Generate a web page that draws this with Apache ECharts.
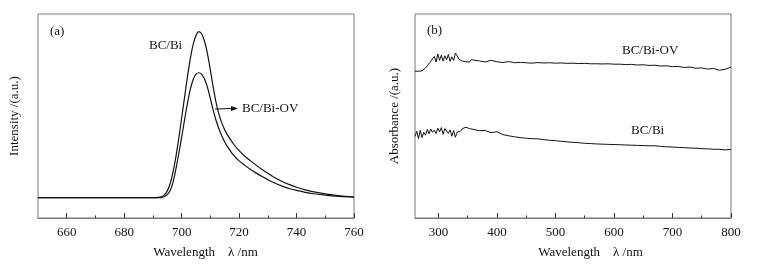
<!DOCTYPE html>
<html>
<head>
<meta charset="utf-8">
<script src="https://cdn.jsdelivr.net/npm/echarts@6/dist/echarts.min.js"></script>
<style>
html,body{margin:0;padding:0;background:#fff;}
#c{width:775px;height:264px;}
</style>
</head>
<body>
<div id="c"></div>
<script>
// ---- Panel (a): photoluminescence ----
const wlA = [650,660,670,680,686,690,692,693,694,695,696,697,698,699,700,701,702,703,704,705,706,707,708,709,710,711,712,713,714,715,716,718,720,722,724,726,728,730,732,735,738,740,743,746,750,755,760];
const intBi = [10,10,10,10,10,10,10.1,10.4,11.3,13.3,16.8,22.5,30,39,49,59,69,78,85,89.5,91.4,90.2,86.5,80.5,72.5,64,56.5,50.8,46.5,43.2,40.6,36.4,33,30.3,28,25.8,23.8,21.9,20.1,17.9,16.1,15.1,13.8,12.8,11.8,10.9,10.3];
const intOV = [10,10,10,10,10,10,10,10.1,10.5,11.5,13.5,17.5,24,31.5,39.5,48,56,63,67.8,70.5,71.2,70.4,68,64,58.5,52.8,47.8,43.6,40.2,37.3,34.9,30.9,28,25.8,23.8,22,20.3,18.8,17.4,15.6,14.2,13.5,12.6,11.9,11.2,10.6,10.2];
const ticksA = [660,680,700,720,740,760];
const minorA = [670,690,710,730,750];

// ---- Panel (b): absorbance ----
const wlB = [260,263,266,269,272,275,278,281,284,287,290,293,296,299,302,305,308,311,314,317,320,323,326,329,332,335,338,341,344,347,350,353,356,359,
  370,380,390,400,410,420,430,440,450,460,470,480,490,500,510,520,530,540,550,560,570,580,590,600,610,620,630,640,650,660,670,680,690,700,710,720,730,740,750,760,770,780,790,800];
const absOV = [72.0,72.3,71.9,72.4,72.2,72.9,73.6,74.6,75.4,76.8,75.9,79.2,76.5,80.4,77.3,79.8,76.9,79.5,77.6,80.2,76.8,79.0,77.2,80.8,79.5,77.8,78.6,76.9,77.3,76.6,77.1,76.4,77.6,76.8,
  77.0,76.5,77.3,76.6,76.2,76.7,76.1,76.3,76.1,75.9,76.2,76.0,76.1,75.9,76.0,75.8,75.9,75.7,75.8,75.6,75.6,75.5,75.6,75.4,75.4,75.2,75.3,75.0,75.1,74.8,74.9,74.5,74.6,74.2,74.3,73.8,74.0,73.4,73.6,73.0,73.3,72.4,72.9,74.0];
const absBi = [40.0,42.5,38.9,43.0,39.4,42.0,40.6,43.4,41.3,43.6,42.0,43.1,41.4,44.0,42.2,44.3,41.0,43.8,44.5,41.5,43.2,40.1,42.9,39.6,42.0,41.2,42.6,43.8,44.4,44.5,44.2,43.8,43.4,43.5,
  42.8,42.9,41.8,42.3,40.9,40.3,39.8,39.4,39.1,38.9,38.8,38.4,38.1,37.9,37.6,37.3,37.1,36.9,36.6,36.5,36.3,36.2,36.1,36.0,35.9,35.8,35.7,35.6,35.5,35.4,35.4,35.1,34.9,34.8,34.6,34.5,34.3,34.2,34.0,33.9,33.7,33.7,33.4,33.6];
const ticksB = [300,400,500,600,700,800];
const minorB = [350,450,550,650,750];

const FONT = 'Liberation Serif';
const FRAME = '#7a7a7a';
const pairs = (xs, ys) => xs.map((x, i) => [x, ys[i]]);

function xAxisMain(gi, min, max, ticks, name, shift) {
  return {
    type: 'value', gridIndex: gi, min: min, max: max,
    name: name, nameLocation: 'middle', nameGap: 28,
    nameTextStyle: {fontFamily: FONT, fontSize: 13, color: '#111', padding: [0, 0, 0, shift]},
    axisLine: {show: true, lineStyle: {color: FRAME, width: 1}},
    axisTick: {show: true, inside: true, length: 5, customValues: ticks, lineStyle: {color: '#333', width: 1}},
    axisLabel: {show: true, customValues: ticks, margin: 8, fontFamily: FONT, fontSize: 13, color: '#111'},
    splitLine: {show: false}
  };
}
function xAxisMinor(gi, min, max, ticks) {
  return {
    type: 'value', gridIndex: gi, min: min, max: max, position: 'bottom',
    axisLine: {show: false},
    axisTick: {show: true, inside: true, length: 2.5, customValues: ticks, lineStyle: {color: '#333', width: 1}},
    axisLabel: {show: false},
    splitLine: {show: false}
  };
}
function yAxis(gi, name, gap) {
  return {
    type: 'value', gridIndex: gi, min: 0, max: 100,
    name: name, nameLocation: 'middle', nameGap: gap, nameRotate: 90,
    nameTextStyle: {fontFamily: FONT, fontSize: 13, color: '#111'},
    axisLine: {show: false}, axisTick: {show: false}, axisLabel: {show: false}, splitLine: {show: false}
  };
}

const chart = echarts.init(document.getElementById('c'), null, {renderer: 'canvas'});
chart.setOption({
  animation: false,
  backgroundColor: '#fff',
  grid: [
    {left: 38, top: 14, width: 316, height: 206, show: true, borderColor: FRAME, borderWidth: 1},
    {left: 415, top: 14, width: 316, height: 206, show: true, borderColor: FRAME, borderWidth: 1}
  ],
  xAxis: [
    xAxisMain(0, 650, 760, ticksA, 'Wavelength    \u03bb /nm', 19),
    xAxisMinor(0, 650, 760, minorA),
    xAxisMain(1, 260, 800, ticksB, 'Wavelength    \u03bb /nm', 35),
    xAxisMinor(1, 260, 800, minorB)
  ],
  yAxis: [yAxis(0, 'Intensity /(a.u.)', 17), yAxis(1, 'Absorbance /(a.u.)', 14)],
  series: [
    {type: 'line', xAxisIndex: 0, yAxisIndex: 0, data: pairs(wlA, intBi), smooth: 0.3, showSymbol: false, lineStyle: {color: '#111', width: 1.2}},
    {type: 'line', xAxisIndex: 0, yAxisIndex: 0, data: pairs(wlA, intOV), smooth: 0.3, showSymbol: false, lineStyle: {color: '#111', width: 1.2}},
    {type: 'line', xAxisIndex: 2, yAxisIndex: 1, data: pairs(wlB, absOV), showSymbol: false, lineStyle: {color: '#111', width: 1}},
    {type: 'line', xAxisIndex: 2, yAxisIndex: 1, data: pairs(wlB, absBi), showSymbol: false, lineStyle: {color: '#111', width: 1}}
  ],
  graphic: [
    {type: 'text', left: 50, top: 25, style: {text: '(a)', font: '13px "Liberation Serif"', fill: '#111'}},
    {type: 'text', left: 149, top: 39, style: {text: 'BC/Bi', font: '13px "Liberation Serif"', fill: '#111'}},
    {type: 'text', left: 242, top: 102, style: {text: 'BC/Bi-OV', font: '13px "Liberation Serif"', fill: '#111'}},
    {type: 'line', shape: {x1: 215, y1: 109, x2: 232, y2: 108.5}, style: {stroke: '#111', lineWidth: 1}},
    {type: 'polygon', shape: {points: [[238, 108.5], [231, 106], [231, 111]]}, style: {fill: '#111'}},
    {type: 'text', left: 427, top: 24, style: {text: '(b)', font: '13px "Liberation Serif"', fill: '#111'}},
    {type: 'text', left: 622, top: 44, style: {text: 'BC/Bi-OV', font: '13px "Liberation Serif"', fill: '#111'}},
    {type: 'text', left: 631, top: 124, style: {text: 'BC/Bi', font: '13px "Liberation Serif"', fill: '#111'}}
  ]
});
</script>
</body>
</html>
